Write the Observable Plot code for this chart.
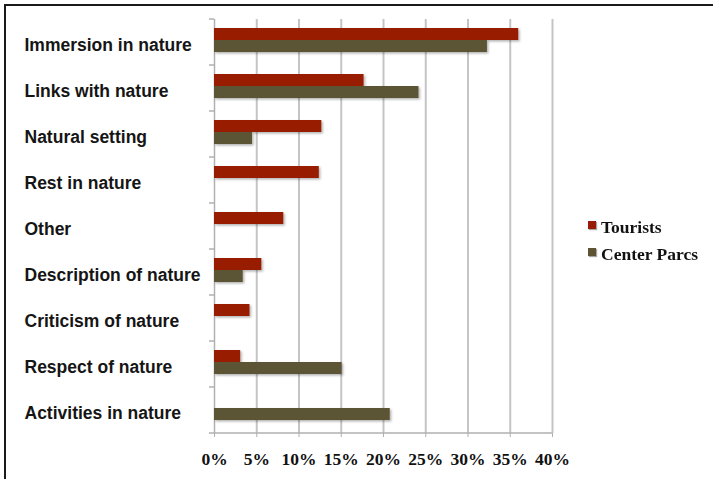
<!DOCTYPE html>
<html>
<head>
<meta charset="utf-8">
<script src="https://cdn.jsdelivr.net/npm/d3@7"></script>
<script src="https://cdn.jsdelivr.net/npm/@observablehq/plot@0.6"></script>
<style>
  html, body { margin: 0; padding: 0; background: #fff; }
  #wrap { position: relative; width: 713px; height: 479px; overflow: hidden; }
  #border { position: absolute; left: 4px; top: 4px; right: -10px; bottom: -10px; border-left: 2px solid #1a1a1a; border-top: 2px solid #1a1a1a; pointer-events: none; }
  #legend { position: absolute; left: 588px; top: 214px; font-family: "Liberation Serif", "Times New Roman", serif; font-weight: bold; font-size: 17.5px; color: #111; }
  #legend .item { display: flex; align-items: center; height: 27px; }
  #legend .sw { width: 8px; height: 8px; margin-right: 5px; box-shadow: 1px 1px 1px rgba(0,0,0,0.35); position: relative; top: -3px; }
</style>
</head>
<body>
<div id="wrap"><div id="border"></div><div id="legend"></div></div>
<script>
const categories = [
  "Immersion in nature",
  "Links with nature",
  "Natural setting",
  "Rest in nature",
  "Other",
  "Description of nature",
  "Criticism of nature",
  "Respect of nature",
  "Activities in nature"
];
const series = ["Tourists", "Center Parcs"];
const tourists =    [36.0, 17.7, 12.7, 12.4, 8.2, 5.6, 4.2, 3.1, 0];
const centerParcs = [32.3, 24.2, 4.5, 0, 0, 3.4, 0, 15.1, 20.8];
const colors = ["#981b05", "#5c5434"];
const xTicks = [0, 0.05, 0.10, 0.15, 0.20, 0.25, 0.30, 0.35, 0.40];

const values = [tourists, centerParcs];
const data = categories.flatMap((c, i) =>
  series.map((s, j) => ({category: c, series: s, value: values[j][i] / 100}))
).filter(d => d.value > 0);

const pct = d => Math.round(d * 100) + "%";

const plot = Plot.plot({
  width: 713,
  height: 479,
  marginLeft: 214,
  marginRight: 161,
  marginTop: 18,
  marginBottom: 45,
  style: {background: "transparent", overflow: "visible"},
  x: {domain: [0, 0.4], axis: null, label: null},
  fy: {domain: categories, padding: 0, axis: null, label: null},
  y: {domain: series, paddingInner: 0, paddingOuter: 0.78, align: 0.42, axis: null, label: null},
  color: {domain: series, range: colors},
  marks: [
    Plot.ruleX(xTicks.slice(1), {stroke: "#c4c4c4", strokeWidth: 2}),
    Plot.ruleX([0], {stroke: "#b0b0b0", strokeWidth: 1.5}),
    Plot.barX(data, {fy: "category", y: "series", x: "value", fill: "series"}),
    Plot.text(categories, {
      fy: d => d, text: d => d, frameAnchor: "left", textAnchor: "start",
      dx: -190, dy: 3, fontFamily: "Liberation Sans, Arial, sans-serif",
      fontWeight: "bold", fontSize: 17.5, fill: "#151515"
    }),
    Plot.axisX({
      ticks: xTicks, tickFormat: pct, tickSize: 4, tickPadding: 15, label: null,
      stroke: "#b0b0b0", fill: "#111",
      fontFamily: "Liberation Serif, Times New Roman, serif",
      fontWeight: "bold", fontSize: 17.5
    })
  ]
});

document.getElementById("wrap").insertBefore(plot, document.getElementById("border"));

// axis lines and band boundary ticks, placed through Plot's own scales
const svg = d3.select(plot);
const fy = plot.scale("fy");
const xs = plot.scale("x");
const x0 = xs.apply(0), x1 = xs.apply(0.4);
const bottom = fy.apply(categories[categories.length - 1]) + fy.bandwidth;
const g = svg.append("g").attr("stroke", "#b0b0b0").attr("stroke-width", 1.5);
g.append("line").attr("x1", x0).attr("x2", x1).attr("y1", bottom).attr("y2", bottom);
const bounds = categories.map(c => fy.apply(c)).concat([bottom]);
g.selectAll("line.tk").data(bounds).join("line").attr("class", "tk")
  .attr("x1", x0 - 5).attr("x2", x0).attr("y1", d => d).attr("y2", d => d);

// subtle drop shadow on bars
const defs = svg.insert("defs", ":first-child");
const f = defs.append("filter").attr("id", "barshadow").attr("x", "-10%").attr("y", "-20%").attr("width", "130%").attr("height", "160%");
f.append("feDropShadow").attr("dx", 1.5).attr("dy", 1.5).attr("stdDeviation", 1)
  .attr("flood-color", "#000").attr("flood-opacity", 0.3);
svg.selectAll("g[aria-label='bar']").attr("filter", "url(#barshadow)");

// legend
const legend = d3.select("#legend");
series.forEach((s, i) => {
  const it = legend.append("div").attr("class", "item");
  it.append("div").attr("class", "sw").style("background", colors[i]);
  it.append("span").text(s);
});
</script>
</body>
</html>
